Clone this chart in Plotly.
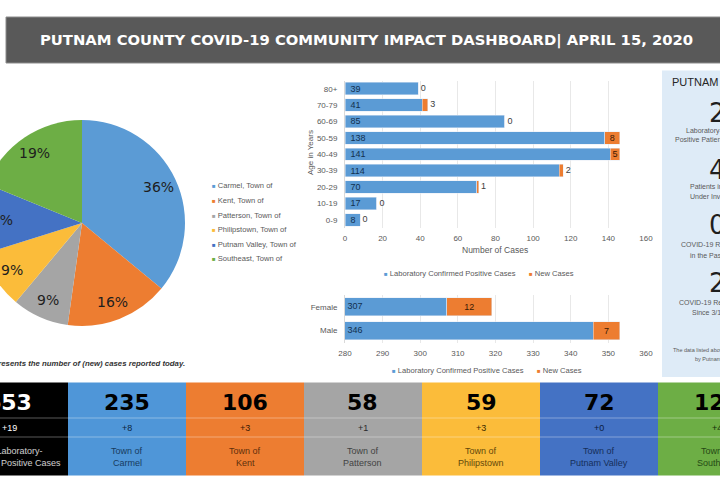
#!/usr/bin/env python3

import math

import plotly.graph_objects as go

# page is wider than the window, the crop cuts off both sides like the reference
FIG_W = 860
FIG_H = 480
OFFSET = 70

towns = ['Carmel, Town of', 'Kent, Town of', 'Patterson, Town of',
         'Philipstown, Town of', 'Putnam Valley, Town of', 'Southeast, Town of']
town_cases = [235, 106, 58, 59, 72, 123]
town_colors = ['#5B9BD5', '#ED7D31', '#A5A5A5', '#FBBC3A', '#4472C4', '#6DAE45']

age_groups = ['0-9', '10-19', '20-29', '30-39', '40-49', '50-59', '60-69', '70-79', '80+']
age_cases = [8, 17, 70, 114, 141, 138, 85, 41, 39]
age_new = [0, 0, 1, 2, 5, 8, 0, 3, 0]

genders = ['Male', 'Female']
gender_cases = [346, 307]
gender_new = [7, 12]
GENDER_MIN = 280
GENDER_MAX = 360

card_values = ['653', '235', '106', '58', '59', '72', '123']
card_new = ['+19', '+8', '+3', '+1', '+3', '+0', '+4']
card_line1 = ['Total Laboratory-', 'Town of', 'Town of', 'Town of', 'Town of', 'Town of', 'Town of']
card_line2 = ['Confirmed Positive Cases', 'Carmel', 'Kent', 'Patterson', 'Philipstown',
              'Putnam Valley', 'Southeast']
card_colors = ['#000000', '#4F96D8', '#ED7D31', '#A5A5A5', '#FBBC3A', '#4472C4', '#6DAE45']
card_inks = ['#FFFFFF', '#0B2540', '#3A1A05', '#2A2A2A', '#3A2A00', '#0B1C40', '#12300A']

panel_values = ['2', '4', '0', '2']
panel_notes = [
    ['Laboratory-Confirmed', 'Positive Patients Hospitalized'],
    ['Patients in Hospital', 'Under Investigation'],
    ['COVID-19 Related Deaths', 'in the Past 24 Hours'],
    ['COVID-19 Related Deaths', 'Since 3/1/2020'],
]

GREY = '#595959'
BASE = 'Liberation Sans'
HEAVY = 'DejaVu Sans'
BLUE = '#5B9BD5'
ORANGE = '#ED7D31'
NBSP = '\u00a0'


def px(x):
    return (x + OFFSET) / FIG_W


def py(y):
    return 1 - y / FIG_H


def label(x, y, text, size=8, color=GREY, anchor='center', font=BASE, **kw):
    return dict(x=px(x), y=py(y), xref='paper', yref='paper', text=text, showarrow=False,
                xanchor=anchor, yanchor='middle', align=anchor,
                font=dict(size=size, color=color, family=font), **kw)


def box(x0, y0, x1, y1, fill, line=None):
    return dict(type='rect', xref='paper', yref='paper', layer='below',
                x0=px(x0), x1=px(x1), y0=py(y1), y1=py(y0), fillcolor=fill,
                line=dict(width=1 if line else 0, color=line or fill))


def rule(x0, x1, y):
    return dict(type='line', xref='paper', yref='paper', layer='below',
                x0=px(x0), x1=px(x1), y0=py(y), y1=py(y),
                line=dict(color='rgba(255,255,255,0.35)', width=1))


def swatch(color, size=6):
    return f'<span style="color:{color};font-size:{size}px">■</span> '


fig = go.Figure()

PIE_X, PIE_Y, PIE_R = 82, 223, 103
fig.add_trace(go.Pie(
    labels=towns, values=town_cases, sort=False, direction='clockwise',
    marker=dict(colors=town_colors), textinfo='none',
    domain=dict(x=[px(PIE_X - PIE_R), px(PIE_X + PIE_R)],
                y=[py(PIE_Y + PIE_R), py(PIE_Y - PIE_R)]),
    showlegend=False,
))

bar_text = dict(textposition='inside', constraintext='none', textangle=0, showlegend=False)
fig.add_trace(go.Bar(
    y=age_groups, x=age_cases, orientation='h', marker_color=BLUE, xaxis='x', yaxis='y',
    text=[NBSP + str(v) for v in age_cases], insidetextanchor='start',
    textfont=dict(size=9, color='#12304F', family=BASE), **bar_text,
))
fig.add_trace(go.Bar(
    y=age_groups, x=age_new, orientation='h', marker_color=ORANGE, xaxis='x', yaxis='y',
    text=[v if v >= 5 else '' for v in age_new], insidetextanchor='middle',
    textfont=dict(size=9, color='#3A1A05', family=BASE), **bar_text,
))
# small counts sit just past the end of the bar
small = [i for i, v in enumerate(age_new) if v < 5]
fig.add_trace(go.Scatter(
    y=[age_groups[i] for i in small], x=[age_cases[i] + age_new[i] for i in small],
    text=[NBSP + str(age_new[i]) for i in small], mode='text', textposition='middle right',
    textfont=dict(size=9, color='#404040', family=BASE), xaxis='x', yaxis='y',
    showlegend=False,
))

fig.add_trace(go.Bar(
    y=genders, x=gender_cases, orientation='h', marker_color=BLUE, xaxis='x2', yaxis='y2',
    showlegend=False,
))
fig.add_trace(go.Bar(
    y=genders, x=gender_new, orientation='h', marker_color=ORANGE, xaxis='x2', yaxis='y2',
    text=gender_new, insidetextanchor='middle',
    textfont=dict(size=9, color='#3A1A05', family=BASE), **bar_text,
))
# the axis starts above zero, so the case counts hang off the axis start
fig.add_trace(go.Scatter(
    y=genders, x=[GENDER_MIN] * len(genders), text=[NBSP + str(v) for v in gender_cases],
    mode='text', textposition='middle right',
    textfont=dict(size=9, color='#12304F', family=BASE), xaxis='x2', yaxis='y2',
    showlegend=False,
))

axis_x = dict(showgrid=True, gridcolor='#E8E8E8', gridwidth=1, zeroline=False, showline=False,
              ticks='', ticklabelstandoff=4,
              tickfont=dict(size=8, color=GREY, family=BASE), fixedrange=True)
axis_y = dict(showgrid=False, zeroline=False, showline=True, linecolor='#D9D9D9', ticks='',
              ticklabelstandoff=5,
              tickfont=dict(size=8, color=GREY, family=BASE), fixedrange=True, type='category')

shapes = [
    box(6, 17, 760, 63, '#595959', '#8C8C8C'),
    box(662, 70.5, 760, 377, '#DEEBF7'),
]
annotations = [
    label(366, 40, '<b>PUTNAM COUNTY COVID-19 COMMUNITY IMPACT DASHBOARD| APRIL 15, 2020</b>',
          size=14.8, color='#FFFFFF', font=HEAVY),
    label(187, 363, '<b><i>* (+) represents the number of (new) cases reported today.</i></b>',
          size=7.8, color='#333333', anchor='right'),
    label(310, 153, 'Age in Years', textangle=-90),
    label(495, 250, 'Number of Cases', size=8.5),
]

# percent labels on the slices, placed along each slice's middle angle
total = sum(town_cases)
running = 0
for value in town_cases:
    angle = 2 * math.pi * (running + value / 2) / total
    running += value
    annotations.append(label(PIE_X + 0.82 * PIE_R * math.sin(angle),
                             PIE_Y - 0.82 * PIE_R * math.cos(angle),
                             f'{value / total:.0%}', size=14, color='#1E1E1E',
                             font=HEAVY))

for i, town in enumerate(towns):
    annotations.append(label(210, 186 + i * 14.5, swatch(town_colors[i]) + town, size=7.6,
                             anchor='left'))

for y, x_main, x_new in ((273.5, 382, 527), (370, 390, 535)):
    annotations.append(label(x_main, y, swatch(BLUE) + 'Laboratory Confirmed Positive Cases',
                             size=7.6, anchor='left'))
    annotations.append(label(x_new, y, swatch(ORANGE) + 'New Cases', size=7.6, anchor='left'))

for i, value in enumerate(card_values):
    x0 = -50 + i * 118
    mid = x0 + 59
    shapes.append(box(x0, 382.5, x0 + 118, 475.5, card_colors[i]))
    shapes.append(rule(x0, x0 + 118, 418))
    shapes.append(rule(x0, x0 + 118, 437))
    ink = card_inks[i]
    annotations.append(label(mid, 402, f'<b>{value}</b>', size=22,
                             color='#FFFFFF' if i == 0 else '#000000', font=HEAVY))
    annotations.append(label(mid, 428, card_new[i], size=9, color=ink))
    annotations.append(label(mid, 451, card_line1[i], size=9, color=ink, opacity=0.8))
    annotations.append(label(mid, 463, card_line2[i], size=9, color=ink, opacity=0.8))

annotations.append(label(670, 82, 'PUTNAM COUNTY', size=11, color='#262626', anchor='left'))
for value, y_value in zip(panel_values, [113, 170, 225, 283]):
    annotations.append(label(707, y_value, value, size=26, color='#1E1E1E', anchor='left',
                             font=HEAVY))
note_rows = [(684, 131, 673, 140), (688, 187, 688, 197), (679, 245, 688, 255), (677, 302, 690, 312)]
for note, (x1, y1, x2, y2) in zip(panel_notes, note_rows):
    annotations.append(label(x1, y1, note[0], size=7, anchor='left'))
    annotations.append(label(x2, y2, note[1], size=7, anchor='left'))
annotations.append(label(671, 350, 'The data listed above is provided', size=5.5, anchor='left'))
annotations.append(label(693, 359, 'by Putnam County', size=5.5, anchor='left'))

fig.update_layout(
    width=FIG_W, height=FIG_H, margin=dict(l=0, r=0, t=0, b=0, autoexpand=False),
    paper_bgcolor='#FFFFFF', plot_bgcolor='#FFFFFF', barmode='stack', bargap=0.24,
    shapes=shapes, annotations=annotations,
    xaxis=dict(axis_x, domain=[px(345), px(646)], range=[0, 160], dtick=20, anchor='y'),
    yaxis=dict(axis_y, domain=[py(228), py(80.5)], anchor='x',
               categoryorder='array', categoryarray=age_groups),
    xaxis2=dict(axis_x, domain=[px(345), px(646)], range=[GENDER_MIN, GENDER_MAX], dtick=10,
                anchor='y2'),
    yaxis2=dict(axis_y, domain=[py(342.5), py(295)], anchor='x2',
                categoryorder='array', categoryarray=genders),
)

# drop the page margin and slide the figure left so it is cropped by the window
shift = f"""
document.body.style.margin = '0';
document.body.style.overflow = 'hidden';
document.documentElement.style.overflow = 'hidden';
var gd = document.getElementsByClassName('plotly-graph-div')[0];
gd.style.marginLeft = '-{OFFSET}px';
"""
fig.write_html('out.html', post_script=shift, config={'displayModeBar': False})
